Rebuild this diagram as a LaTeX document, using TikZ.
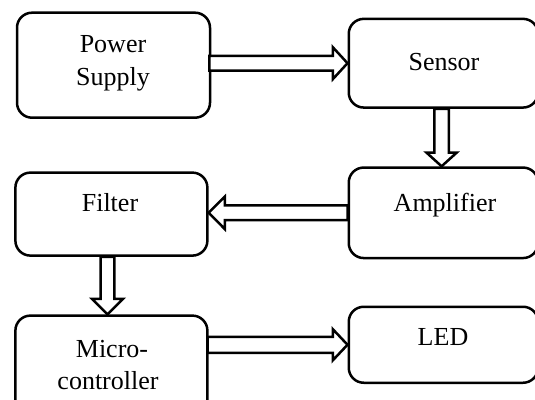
\documentclass[tikz,border=0pt]{standalone}
\usepackage{fontspec}
\setmainfont{Liberation Serif}
\usetikzlibrary{calc}
\tikzset{
  box/.style={draw, line width=2.5pt, rounded corners=15pt, inner sep=0pt, fill=white},
  blk/.style={draw, line width=2.5pt, fill=white, line join=miter},
  lbl/.style={inner sep=0pt, font=\fontsize{26}{32.5}\selectfont, align=center, anchor=base}
}
\begin{document}
\begin{tikzpicture}[x=1pt,y=-1pt]
\useasboundingbox (0,0) rectangle (535,399);
\clip (0,0) rectangle (535,399);
% boxes
\node[box, minimum width=193pt, minimum height=105pt] (ps) at (113.5,65.2) {};
\node[box, minimum width=189.3pt, minimum height=88.7pt] (sensor) at (443.4,63.2) {};
\node[box, minimum width=189.3pt, minimum height=90.5pt] (amp) at (443.4,212.8) {};
\node[box, minimum width=192pt, minimum height=83pt] (filter) at (111.4,214.1) {};
\node[box, minimum width=192pt, minimum height=99.4pt] (micro) at (111.4,365.3) {};
\node[box, minimum width=189.3pt, minimum height=76pt] (led) at (443.4,344.75) {};
% texts
\node[lbl] (tps1) at (113,52.9) {Power};
\node[lbl] (tps2) at (113,85.3) {Supply};
\node[lbl] (tsen) at (444,70) {Sensor};
\node[lbl] (tamp) at (445,211) {Amplifier};
\node[lbl] (tfil) at (110,211) {Filter};
\node[lbl] (tmic1) at (112,357) {Micro-};
\node[lbl] (tmic2) at (108,389) {controller};
\node[lbl] (tled) at (443,345) {LED};
% block arrows
\coordinate (a1s) at ($(ps.east|-sensor.west)+(-2,0)$);
\draw[blk] ($(a1s)+(0,-7.3)$) -- ($(sensor.west)+(-14.7,-7.3)$) -- ($(sensor.west)+(-14.7,-16)$)
  -- (sensor.west) -- ($(sensor.west)+(-14.7,16)$) -- ($(sensor.west)+(-14.7,7.3)$) -- ($(a1s)+(0,7.3)$) -- cycle;
\coordinate (a2s) at ($(sensor.south)+(-1.8,0)$);
\coordinate (a2t) at ($(amp.north)+(-1.8,0)$);
\draw[blk] ($(a2s)+(-7.3,0)$) -- ($(a2t)+(-7.3,-13.6)$) -- ($(a2t)+(-15,-13.6)$)
  -- (a2t) -- ($(a2t)+(15,-13.6)$) -- ($(a2t)+(7.3,-13.6)$) -- ($(a2s)+(7.3,0)$) -- cycle;
\coordinate (a3t) at (filter.east|-amp.west);
\draw[blk] ($(amp.west)+(0,-7.4)$) -- ($(a3t)+(16.1,-7.4)$) -- ($(a3t)+(16.1,-16.2)$)
  -- (a3t) -- ($(a3t)+(16.1,16.2)$) -- ($(a3t)+(16.1,7.4)$) -- ($(amp.west)+(0,7.4)$) -- cycle;
\coordinate (a4s) at ($(filter.south)+(-3.9,0)$);
\coordinate (a4t) at ($(micro.north)+(-3.9,0)$);
\draw[blk] ($(a4s)+(-6.9,0)$) -- ($(a4t)+(-6.9,-15.6)$) -- ($(a4t)+(-15.7,-15.6)$)
  -- (a4t) -- ($(a4t)+(15.7,-15.6)$) -- ($(a4t)+(6.9,-15.6)$) -- ($(a4s)+(6.9,0)$) -- cycle;
\coordinate (a5s) at ($(micro.east|-led.west)+(-1,0)$);
\draw[blk] ($(a5s)+(0,-8)$) -- ($(led.west)+(-14.7,-8)$) -- ($(led.west)+(-14.7,-15.6)$)
  -- (led.west) -- ($(led.west)+(-14.7,15.6)$) -- ($(led.west)+(-14.7,8)$) -- ($(a5s)+(0,8)$) -- cycle;
\end{tikzpicture}
\end{document}
